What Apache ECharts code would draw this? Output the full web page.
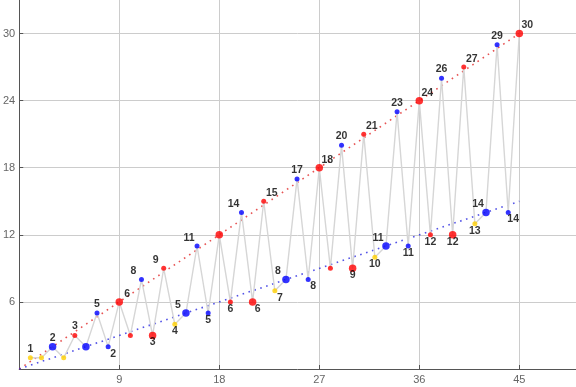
<!DOCTYPE html>
<html><head><meta charset="utf-8">
<script src="https://cdn.jsdelivr.net/npm/echarts@6/dist/echarts.min.js"></script>
<style>html,body{margin:0;padding:0;background:#fff}#c{width:576px;height:387px}</style>
</head><body><div id="c"></div>
<script>
// ---- data ----
const xValues = [1,2,3,4,5,6,7,8,9,10,11,12,13,14,15,16,17,18,19,20,21,22,23,24,25,26,27,28,29,30,31,32,33,34,35,36,37,38,39,40,41,42,43,44,45];
const yValues = [1,1,2,1,3,2,5,2,6,3,8,3,9,4,5,11,5,12,6,14,6,15,7,8,17,8,18,9,20,9,21,10,11,23,11,24,12,26,12,27,13,14,29,14,30];
const groups  = ['Y','Y','B','Y','R','B','B','B','R','R','B','R','R','Y','B','B','B','R','R','B','R','R','Y','B','B','B','R','R','B','R','R','Y','B','B','B','R','R','B','R','R','Y','B','B','B','R'];
const labelTexts = ['1',null,'2',null,'3',null,'5','2','6',null,'8','3','9','4','5','11','5',null,'6','14','6','15','7','8','17','8','18',null,'20','9','21','10','11','23','11','24','12','26','12','27','13','14','29','14','30'];
const upperLine = [[0,0],[45,30]];
const lowerLine = [[0,0],[45,15]];
const xTicks = [9,18,27,36,45];
const yTicks = [6,12,18,24,30];

// ---- styling ----
const colorOf = {R:'#ff0000', B:'#0000ff', Y:'#ffd000'};
const offsets = {t:[0,-9], b:[0,7], tl:[-8,-8], tr:[8,-8], br:[5,7]};
const placeOf = {1:'t',3:'t',5:'t',7:'t',8:'br',9:'tr',11:'tl',12:'b',13:'tl',14:'b',15:'tl',16:'tl',17:'b',19:'b',20:'tl',21:'br',22:'tr',23:'br',24:'tl',25:'t',26:'br',27:'tr',29:'t',30:'b',31:'tr',32:'b',33:'tl',34:'t',35:'b',36:'tr',37:'b',38:'t',39:'b',40:'tr',41:'b',42:'tl',43:'t',44:'br',45:'tr'};
const labelFont = {color:'#000', fontSize:10.5, fontWeight:'bold', fontFamily:'Liberation Sans, Arial, sans-serif', align:'center', verticalAlign:'middle'};

const pts = xValues.map((x,i)=>{
  const big = x % 3 === 0;
  const size = big ? 7.5 : 5;
  const item = {
    value:[x, yValues[i]],
    symbolSize: size,
    itemStyle:{color: colorOf[groups[i]]}
  };
  if (labelTexts[i] !== null) {
    const off = offsets[placeOf[x]] || [0,-9];
    item.label = Object.assign({show:true, formatter: labelTexts[i], position:[size/2 + off[0], size/2 + off[1]]}, labelFont);
  } else {
    item.label = {show:false};
  }
  return item;
});

const chart = echarts.init(document.getElementById('c'), null, {renderer:'canvas'});
const axisCommon = {
  type:'value',
  axisLine:{show:true, onZero:false, lineStyle:{color:'#555', width:1}},
  axisTick:{show:true, inside:true, length:4, lineStyle:{color:'#555'}},
  axisLabel:{color:'#666', fontSize:11, fontFamily:'Liberation Sans, Arial, sans-serif', showMinLabel:false, showMaxLabel:false},
  splitLine:{show:true, showMinLine:false, showMaxLine:false, lineStyle:{color:'#cccccc', width:1}}
};
chart.setOption({
  animation:false,
  backgroundColor:'#fff',
  grid:{left:15.3, right:0, top:0, bottom:18, containLabel:false},
  xAxis: Object.assign({}, axisCommon, {min:0, max:50.1, interval:9,
    axisLabel: Object.assign({}, axisCommon.axisLabel, {margin:5, formatter: v => xTicks.includes(v) ? String(v) : ''})}),
  yAxis: Object.assign({}, axisCommon, {min:0, max:33, interval:6,
    axisLabel: Object.assign({}, axisCommon.axisLabel, {margin:4, formatter: v => yTicks.includes(v) ? String(v) : ''})}),
  series:[
    {type:'line', data:upperLine, symbol:'none', silent:true, z:1,
     lineStyle:{color:'rgba(225,40,40,0.8)', width:1.6, type:[1.6,4.6], cap:'butt'}},
    {type:'line', data:lowerLine, symbol:'none', silent:true, z:1,
     lineStyle:{color:'rgba(40,40,225,0.8)', width:1.6, type:[1.6,4.6], cap:'butt'}},
    {type:'line', data:xValues.map((x,i)=>[x,yValues[i]]), symbol:'none', silent:true, z:2,
     lineStyle:{color:'#d6d6d6', width:1.4}},
    {type:'scatter', data:pts, z:3,
     label:labelFont,
     labelLayout:{hideOverlap:false}}
  ]
});
</script></body></html>
